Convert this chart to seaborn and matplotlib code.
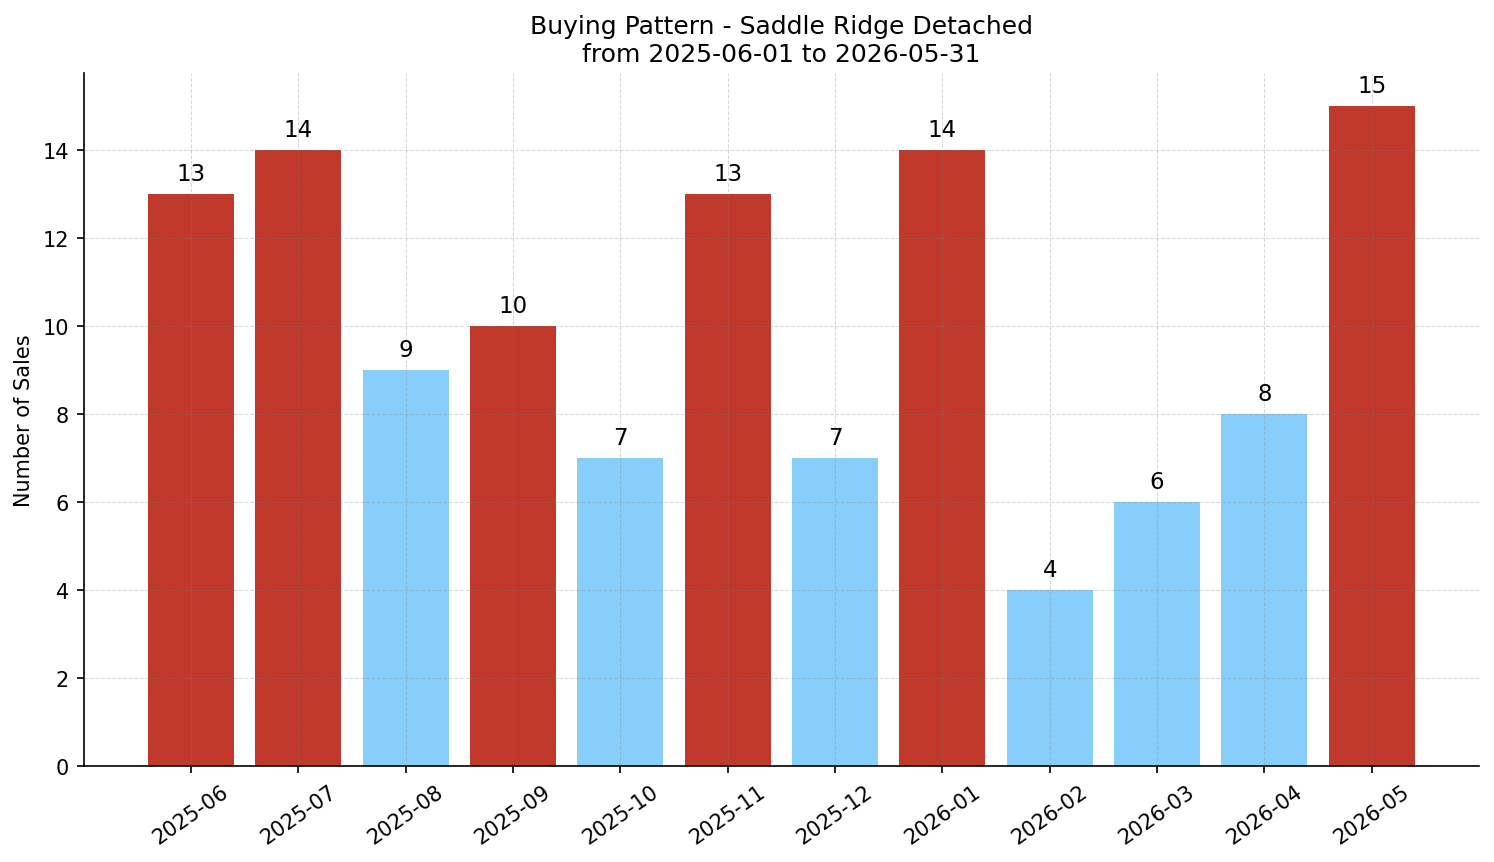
import pandas as pd
import matplotlib
matplotlib.use("Agg")
import matplotlib.pyplot as plt
import seaborn as sns

# ===== DATA =====
MONTHS = ["2025-06", "2025-07", "2025-08", "2025-09", "2025-10", "2025-11",
          "2025-12", "2026-01", "2026-02", "2026-03", "2026-04", "2026-05"]
SALES = [13, 14, 9, 10, 7, 13, 7, 14, 4, 6, 8, 15]
THRESHOLD = 10

HIGH_COLOR = "#c0392b"
LOW_COLOR = "#87cefa"

# ===== PLOT =====
# plain matplotlib look (black text and spines), no seaborn theme
plt.rcParams["font.family"] = ["DejaVu Sans"]

df = pd.DataFrame({"month": MONTHS, "sales": SALES})
palette = {m: (HIGH_COLOR if s >= THRESHOLD else LOW_COLOR) for m, s in zip(MONTHS, SALES)}

fig = plt.figure(figsize=(9.96, 5.753), dpi=150)
ax = fig.add_axes([0.056, 0.111, 0.934, 0.803])
sns.barplot(data=df, x="month", y="sales", hue="month", palette=palette,
            legend=False, width=0.8, saturation=1, linewidth=0, ax=ax)

for i, v in enumerate(SALES):
    ax.text(i, v + 0.2, str(v), ha="center", va="bottom", fontsize=11)

ax.set_xlim(-1, len(MONTHS))
ax.set_ylim(0, max(SALES) * 1.05)
ax.grid(True, linestyle="--", linewidth=0.5, color="gray", alpha=0.3)
ax.set_axisbelow(False)
ax.tick_params(axis="x", rotation=35, labelsize=10)
ax.tick_params(axis="y", labelsize=10)
for lbl in ax.get_xticklabels():
    lbl.set_ha("center")
sns.despine(ax=ax)
ax.set_xlabel("")
ax.set_ylabel("Number of Sales", fontsize=10)
ax.set_title("Buying Pattern - Saddle Ridge Detached\nfrom 2025-06-01 to 2026-05-31", fontsize=12)

fig.savefig("out.png", dpi=150)
plt.close(fig)
